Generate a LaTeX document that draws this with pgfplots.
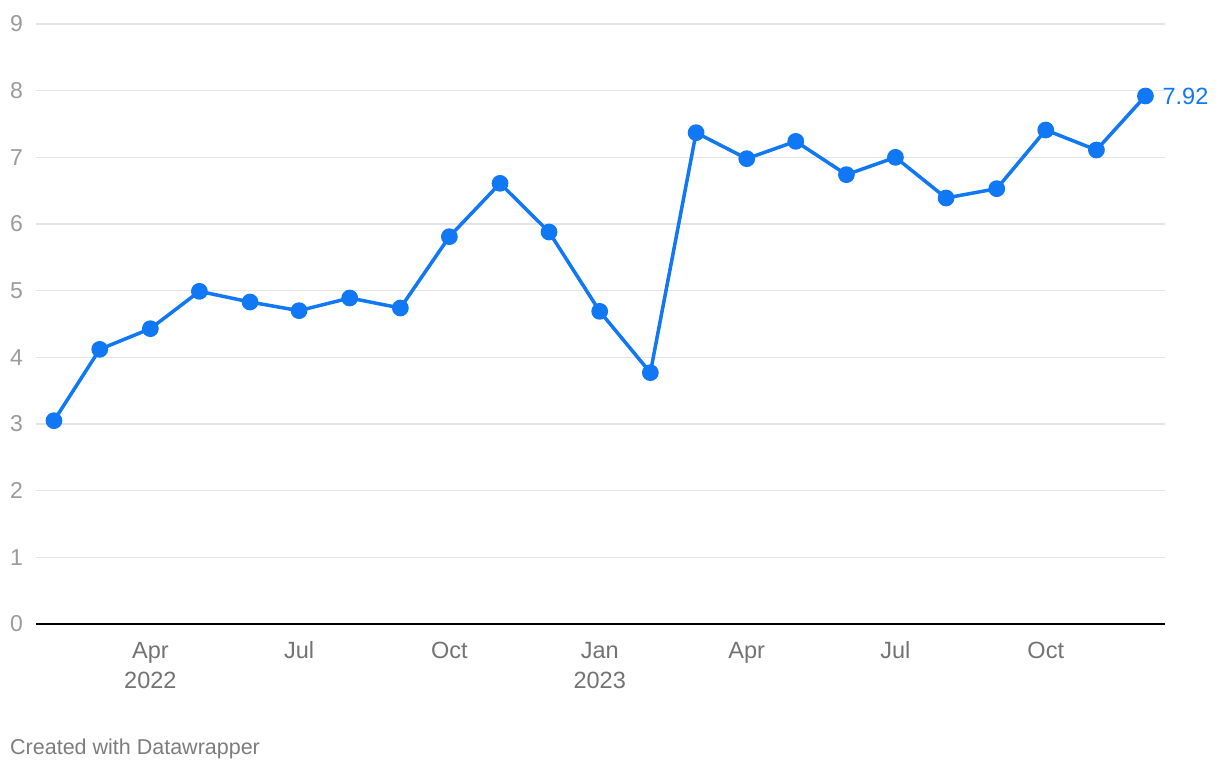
\documentclass[border=0pt]{standalone}
\usepackage{pgfplots}
\pgfplotsset{compat=1.18}
\usepackage{fontspec}
\setmainfont{Liberation Sans}
\definecolor{dwblue}{RGB}{16,119,245}
\definecolor{gridgray}{RGB}{228,228,228}
\definecolor{ylabgray}{RGB}{155,155,155}
\definecolor{xlabgray}{RGB}{115,115,115}
\definecolor{footgray}{RGB}{125,125,125}
% x = days since 2022-01-01 (first of each month)
\pgfplotstableread{
x y
31 3.05
59 4.12
90 4.43
120 4.99
151 4.83
181 4.70
212 4.89
243 4.74
273 5.81
304 6.61
334 5.88
365 4.69
396 3.77
424 7.37
455 6.98
485 7.24
516 6.74
546 7.00
577 6.39
608 6.53
638 7.41
669 7.11
699 7.92
}\datatable
\newcommand{\hs}{\rule{0pt}{17pt}}
\begin{document}
\begin{tikzpicture}
\path[use as bounding box] (0,0) rectangle (1220pt,-770pt);
\begin{axis}[
  at={(36pt,-624pt)}, anchor=south west,
  scale only axis, width=1129pt, height=600pt,
  xmin=20, xmax=711, ymin=0, ymax=9,
  axis line style={draw=none},
  major tick length=0pt,
  ytick={0,1,...,9},
  ymajorgrids, grid style={gridgray, line width=1.4pt},
  xtick={90,181,273,365,455,546,638},
  xticklabels={\hs Apr\\2022,\hs Jul,\hs Oct,\hs Jan\\2023,\hs Apr,\hs Jul,\hs Oct},
  /pgf/number format/assume math mode=true,
  yticklabel style={anchor=west, inner sep=0pt, xshift=-26pt, font=\fontsize{23}{27}\selectfont, text=ylabgray},
  xticklabel style={anchor=north, align=center, inner sep=0pt, yshift=-17pt, font=\fontsize{23.5}{30}\selectfont, text=xlabgray},
  clip=false,
]
\draw[black, line width=2pt] (axis cs:20,0) -- (axis cs:711,0);
\addplot[dwblue, line width=3.5pt, mark=*, mark size=6.6pt, mark options={fill=dwblue, draw=none}] table[x=x,y=y] {\datatable};
\node[anchor=west, text=dwblue, font=\fontsize{23.5}{27}\selectfont, inner sep=0pt] at (axis cs:699,7.92) [xshift=17pt] {7.92};
\end{axis}
\node[anchor=base west, inner sep=0pt, text=footgray, font=\fontsize{21.5}{25}\selectfont] at (10pt,-754pt) {Created with Datawrapper};
\end{tikzpicture}
\end{document}
